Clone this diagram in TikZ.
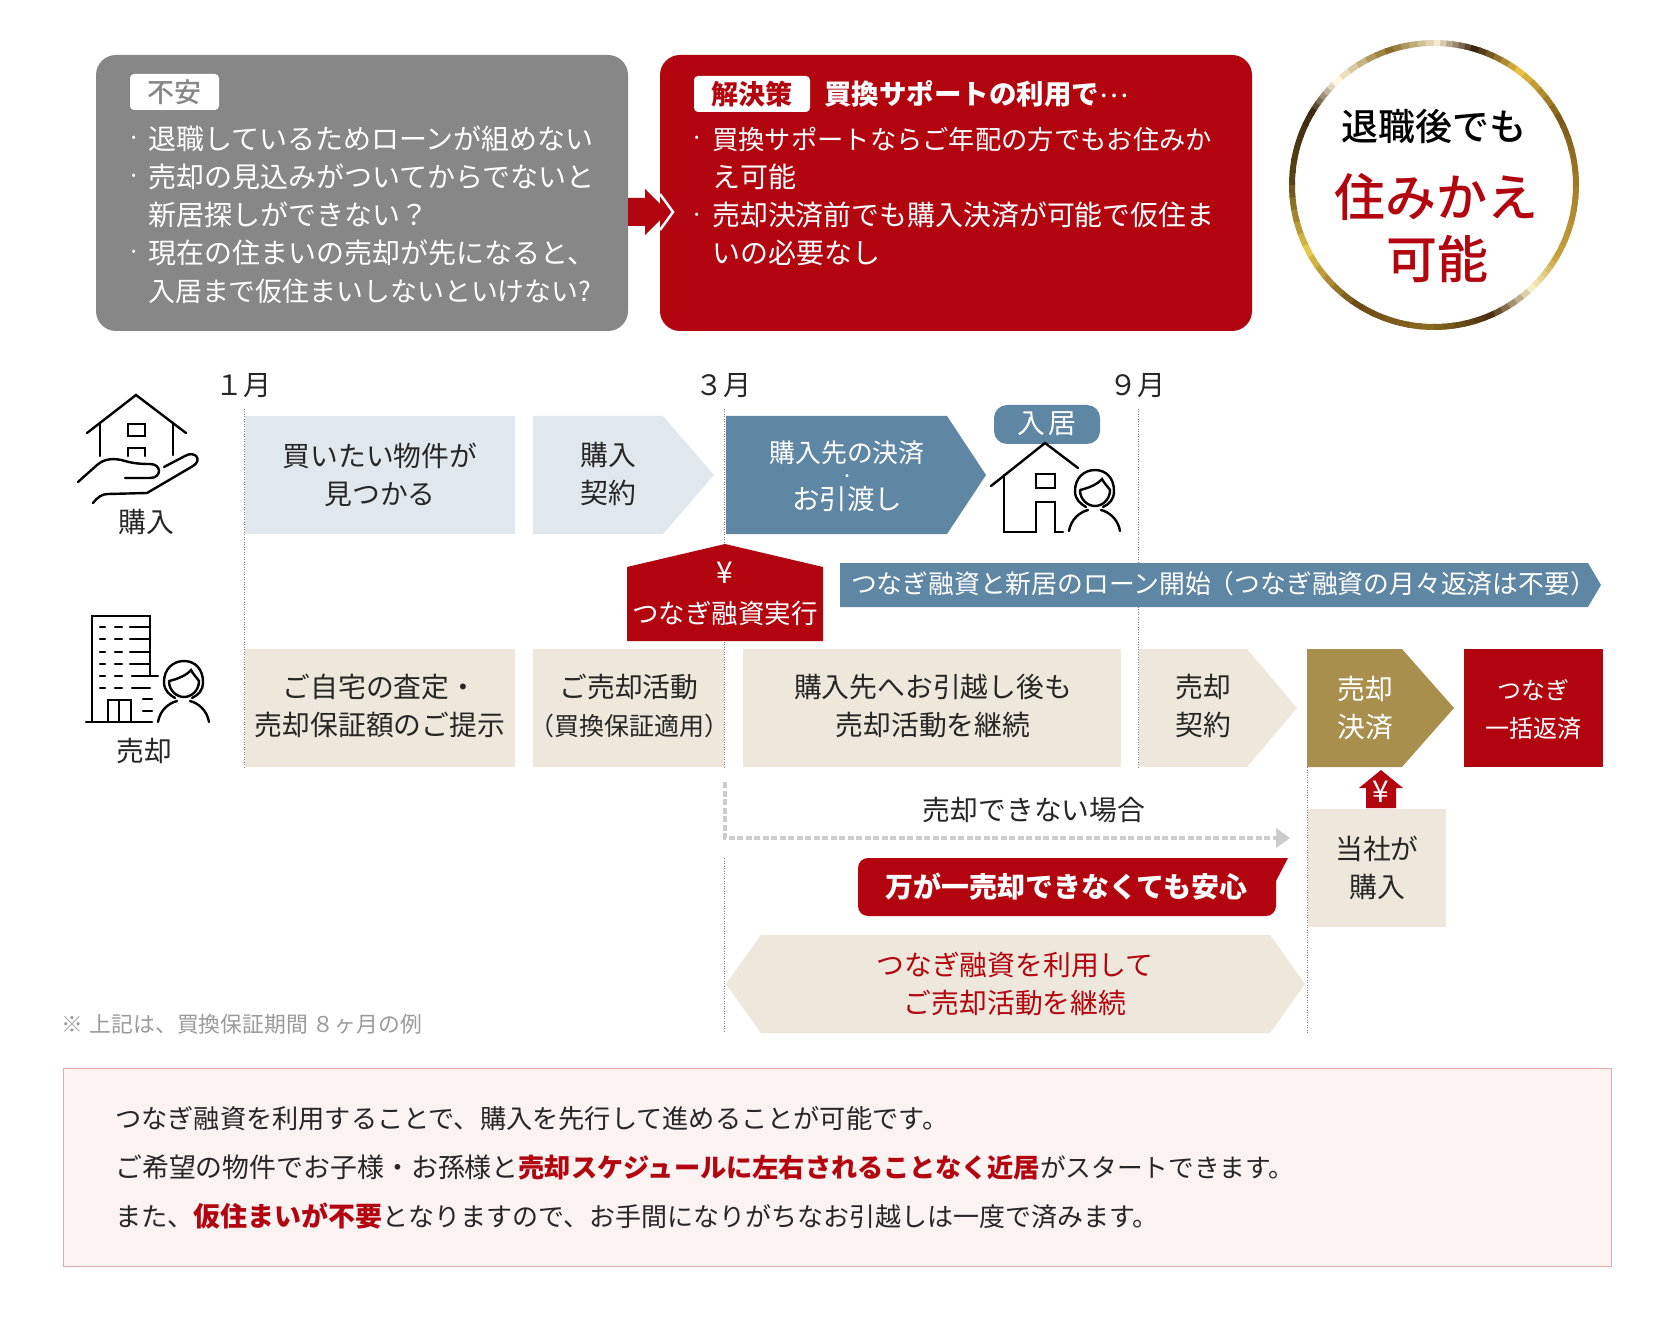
\documentclass[tikz,border=0pt]{standalone}
\usepackage{fontspec}
\setmainfont{Noto Sans CJK JP}
\newfontfamily\medfont{Noto Sans CJK JP Medium}
\definecolor{ink}{HTML}{262626}
\definecolor{gbox}{HTML}{878787}
\definecolor{rbox}{HTML}{B2050F}
\definecolor{pale}{HTML}{E1E8ED}
\definecolor{blue}{HTML}{5F87A3}
\definecolor{beige}{HTML}{EDE7DC}
\definecolor{gold}{HTML}{A98F4E}
\definecolor{notefill}{HTML}{FBF2F2}
\definecolor{noteline}{HTML}{E9A9AC}
\definecolor{dashg}{HTML}{CCCCCC}
\definecolor{notegray}{HTML}{9A9A9A}
\newcommand{\fs}[2]{\fontsize{#1}{#2}\selectfont}
\tikzset{
  x=1pt,y=-1pt,
  txt/.style={inner sep=0,align=center,text=ink,font=\fs{27.8}{38}},
  wtxt/.style={txt,text=white},
  ltxt/.style={inner sep=0,align=left,anchor=west,text=white,font=\fs{28}{38}},
  bul/.style={inner sep=0,text=white,font=\fs{24}{24}},
  icon/.style={draw=black,line width=2.4pt,line cap=round,line join=miter,fill=none},
  vdot/.style={draw=gray,line width=0.8pt,dash pattern=on 1pt off 1.5pt},
  ring/.style={line width=6pt},
  person/.pic={
    \draw[icon] (-9,37) .. controls (-14,34) and (-20,30) .. (-20,21)
       .. controls (-20,8) and (-11,0) .. (0,0) .. controls (11,0) and (19,8) .. (19,21)
       .. controls (19,30) and (14,34) .. (8,37);
    \draw[icon] (-15,20) .. controls (-6,18) and (3,14) .. (7,9) .. controls (9,13) and (13,17) .. (15,20)
       .. controls (15,30) and (7,36) .. (0,36) .. controls (-7,36) and (-15,30) .. (-15,20);
    \draw[icon] (-26,61) .. controls (-24,49) and (-15,42) .. (-7,40);
    \draw[icon] (25,61) .. controls (23,49) and (14,42) .. (6,40);
  }
}
\begin{document}
\begin{tikzpicture}
\useasboundingbox (0,0) rectangle (1674,1321);
\fill[white] (0,0) rectangle (1674,1321);

% top boxes
\fill[gbox,rounded corners=20pt] (96,55) rectangle (628,331);
\fill[white,rounded corners=4pt] (130,74) rectangle (219,110);
\node[txt,text=gbox,font=\fs{27}{27}\medfont] (tagA) at (174.5,92) {不安};
\node[ltxt] (worry) at (148,215) {退職しているためローンが組めない\\売却の見込みがついてからでないと\\新居探しができない？\\現在の住まいの売却が先になると、\\{\fs{26.9}{38}入居まで仮住まいしないといけない?}};
\node[bul] (wb1) at (134,141) {·};
\node[bul] (wb2) at (134,179) {·};
\node[bul] (wb3) at (134,255) {·};

\fill[rbox,rounded corners=20pt] (660,55) rectangle (1252,331);
\fill[white,rounded corners=4pt] (694,76) rectangle (810,112);
\node[txt,text=rbox,font=\fs{27}{27}\bfseries] (tagB) at (752,94) {解決策};
\node[ltxt,font=\fs{27.5}{27.5}\bfseries] (solT) at (824,94) {買換サポートの利用で\raisebox{7pt}{\mdseries…}};
\node[ltxt] (sol) at (712,196.5) {{\fs{26.3}{38}買換サポートならご年配の方でもお住みか}\\え可能\\{\fs{27.9}{38}売却決済前でも購入決済が可能で仮住ま}\\いの必要なし};
\node[bul] (sb1) at (697,141) {·};
\node[bul] (sb2) at (697,218) {·};

% arrow between boxes
\fill[rbox] (628,198) -- (645,198) -- (645,189) -- (668,212) -- (645,235) -- (645,226) -- (628,226) -- cycle;
\draw[white,line width=2.5pt] (660,194) -- (673,212) -- (660,230);

% gold ring badge
\foreach \a/\b/\ca/\cb in {0/30/A87F2A/C9A53C,30/45/C9A53C/F7EFC8,45/65/F7EFC8/4A3010,65/90/4A3010/8A6A20,90/120/8A6A20/6B4A18,120/150/6B4A18/E6C84A,150/180/E6C84A/5A4315,180/210/5A4315/3B2A10,210/225/3B2A10/FFF8E0,225/250/FFF8E0/8A6A25,250/270/8A6A25/F5EBCF,270/285/F5EBCF/3A2510,285/305/3A2510/E8C040,305/330/E8C040/7A5A18,330/360/7A5A18/A87F2A}{
  \definecolor{cA}{HTML}{\ca}\definecolor{cB}{HTML}{\cb}
  \foreach \i in {0,...,5}{
    \pgfmathsetmacro\p{\i*100/6}
    \pgfmathsetmacro\s{\a+(\b-\a)*\i/6}
    \pgfmathsetmacro\e{\a+(\b-\a)*(\i+1.15)/6}
    \draw[ring,color={cB!\p!cA}] (1434,185) ++(\s:142) arc[start angle=\s,end angle=\e,radius=142];
  }
}
\node[txt,text=black,font=\fs{37}{37}\medfont] (bA) at (1434,126) {退職後でも};
\node[txt,text=rbox,font=\fs{51}{51}\medfont] (bB) at (1436,197) {住みかえ};
\node[txt,text=rbox,font=\fs{51}{51}\medfont] (bC) at (1437,259) {可能};

% vertical dotted lines
\draw[vdot] (244,409) -- (244,767);
\draw[vdot] (724.5,409) -- (724.5,767);
\draw[vdot] (724.5,858) -- (724.5,1033);
\draw[vdot] (1138,409) -- (1138,767);
\draw[vdot] (1307,767) -- (1307,1033);

% months
\node[txt,font=\fs{28}{28}] (m1) at (243,386) {１月};
\node[txt,font=\fs{28}{28}] (m3) at (723,386) {３月};
\node[txt,font=\fs{28}{28}] (m9) at (1137,386) {９月};

% icon: house on hand
\draw[icon] (87,433) -- (136,395) -- (186,433);
\draw[icon] (100,423) -- (100,456);
\draw[icon] (173,423) -- (173,455);
\draw[icon] (128,424) rectangle (145,436);
\draw[icon] (128,456) -- (128,448) -- (145,448) -- (145,456);
\draw[icon] (78,482) -- (97,465) .. controls (105,458) and (115,458) .. (125,461) .. controls (135,464) and (145,464) .. (150,464) .. controls (162,464) and (162,478) .. (150,478) -- (125,478);
\draw[icon] (93,503) .. controls (98,497) and (102,494) .. (108,494) -- (147,493) -- (193,466) .. controls (203,460) and (195,450) .. (185,456) -- (164,467);
\node[txt] (buy) at (146,522) {購入};

% icon: building + person
\draw[icon] (92,722) -- (92,616) -- (150,616) -- (150,675);
\draw[icon] (86,722) -- (152,722);
\foreach \yy in {627,639,652,664}{
  \draw[icon] (100,\yy) -- (105,\yy);
  \draw[icon] (115,\yy) -- (122,\yy);
  \draw[icon] (130,\yy) -- (150,\yy);
}
\draw[icon] (100,676) -- (105,676);
\draw[icon] (115,676) -- (122,676);
\draw[icon] (132,676) -- (158,676);
\draw[icon] (100,688) -- (105,688);
\draw[icon] (115,688) -- (122,688);
\draw[icon] (132,688) -- (150,688);
\draw[icon] (108,722) -- (108,700) -- (131,700) -- (131,722);
\draw[icon] (119,700) -- (119,722);
\draw[icon] (143,699) -- (152,699);
\draw[icon] (143,711) -- (152,711);
\pic at (184,661) {person};
\node[txt] (sell) at (144,751) {売却};

% row 1
\fill[pale] (245,416) rectangle (515,534);
\node[txt] (r1a) at (380,475) {買いたい物件が\\見つかる};
\fill[pale] (533,416) -- (663,416) -- (714,475) -- (663,534) -- (533,534) -- cycle;
\node[txt] (r1b) at (608,474) {購入\\契約};
\fill[blue] (726,416) -- (947,416) -- (986,475) -- (947,534) -- (726,534) -- cycle;
\node[wtxt,font=\fs{27.5}{23.5}] (r1c) at (847,476) {{\fs{25.8}{23.5}購入先の決済}\\\raisebox{4pt}{\fs{14}{23.5}・}\\お引渡し};
\fill[blue,rounded corners=13pt] (994,405) rectangle (1100,444);
\node[wtxt] (enter) at (1047,424) {入\hspace{4pt}居};

% icon: house + person
\draw[icon] (991,486) -- (1045,443) -- (1078,468);
\draw[icon] (1004,475) -- (1004,532) -- (1036,532) -- (1036,502) -- (1055,502) -- (1055,532) -- (1063,532);
\draw[icon] (1036,474) rectangle (1055,488);
\pic at (1095,470) {person};

% row 3
\fill[rbox] (725,544) -- (823,567) -- (823,641) -- (627,641) -- (627,567) -- cycle;
\node[wtxt,font=\fs{30}{30}] (yenA) at (725,573) {¥};
\node[wtxt,font=\fs{26.5}{26.5}] (bridge) at (725,613) {つなぎ融資実行};
\fill[blue] (840,563) -- (1588,563) -- (1601,585) -- (1588,607) -- (840,607) -- cycle;
\node[wtxt,font=\fs{25.8}{25.8}] (loan) at (1223.5,584) {つなぎ融資と新居のローン開始\hspace{-2pt}（つなぎ融資の月々返済は不要）};

% row 4
\fill[beige] (245,649) rectangle (515,767);
\node[txt] (r4a) at (380,706) {ご自宅の査定・\\売却保証額のご提示};
\fill[beige] (533,649) rectangle (724,767);
\node[txt] (r4b) at (629,706) {ご売却活動\\{\fs{25}{38}（買換保証適用）}};
\fill[beige] (743,649) rectangle (1121,767);
\node[txt] (r4c) at (933,706) {購入先へお引越し後も\\売却活動を継続};
\fill[beige] (1139,649) -- (1247,649) -- (1297,708) -- (1247,767) -- (1139,767) -- cycle;
\node[txt] (r4d) at (1203,706) {売却\\契約};
\fill[gold] (1307,649) -- (1402,649) -- (1454,708) -- (1402,767) -- (1307,767) -- cycle;
\node[wtxt] (r4e) at (1365,708) {売却\\決済};
\fill[rbox] (1464,649) rectangle (1603,767);
\node[wtxt,font=\fs{24}{38}] (r4f) at (1533,709) {つなぎ\\一括返済};

% up arrow and purchase box
\fill[rbox] (1381,770) -- (1403,788) -- (1396,788) -- (1396,808) -- (1366,808) -- (1366,788) -- (1359,788) -- cycle;
\node[wtxt,font=\fs{30}{30}] (yenB) at (1381,792) {¥};
\fill[beige] (1308,809) rectangle (1446,927);
\node[txt] (r5) at (1377,868) {当社が\\購入};

% dashed connector
\coordinate (dA) at (725,782);
\coordinate (dB) at (725,838);
\coordinate (dC) at (1276,838);
\coordinate (dD) at (1290,838);
\draw[dashg,line width=3.5pt,dash pattern=on 6pt off 2.5pt] (dA) -- (dB) -- (dC);
\fill[dashg] (1276,828) -- (dD) -- (1276,848) -- cycle;
\node[txt] (cant) at (1034,810) {売却できない場合};

% banner
\fill[rbox,rounded corners=10pt] (1276,916) -- (858,916) -- (858,858) -- (1276,858) -- cycle;
\fill[rbox] (1260,858) -- (1288,858) -- (1276,881) -- (1260,881) -- cycle;
\node[wtxt,font=\fs{28}{28}\bfseries] (safe) at (1066.5,887) {万が一売却できなくても安心};

% hexagon
\fill[beige] (726,984) -- (761,935) -- (1270,935) -- (1305,984) -- (1270,1033) -- (761,1033) -- cycle;
\node[txt,text=rbox] (cont) at (1015,984) {つなぎ融資を利用して\\ご売却活動を継続};

% footnote
\node[inner sep=0,anchor=west,text=notegray,font=\fs{21.8}{21.8}] (note) at (61,1024) {※\hspace{7pt}上記は、買換保証期間 ８ヶ月の例};

% bottom box
\draw[draw=noteline,fill=notefill,line width=1pt] (63,1068) rectangle (1611,1266);
\node[inner sep=0,anchor=west,align=left,text=ink,font=\fs{26.2}{49}] (summary) at (115,1168) {つなぎ融資を利用することで、購入を先行して進めることが可能です。\\{\fs{26.9}{49}ご希望の物件でお子様・お孫様と}{\bfseries\color{rbox}売却スケジュールに左右されることなく近居}{\fs{25.7}{49}がスタートできます。}\\また、{\fs{27}{49}\bfseries\color{rbox}仮住まいが不要}{\fs{26}{49}となりますので、お手間になりがちなお引越しは一度で済みます。}};
\end{tikzpicture}
\end{document}
